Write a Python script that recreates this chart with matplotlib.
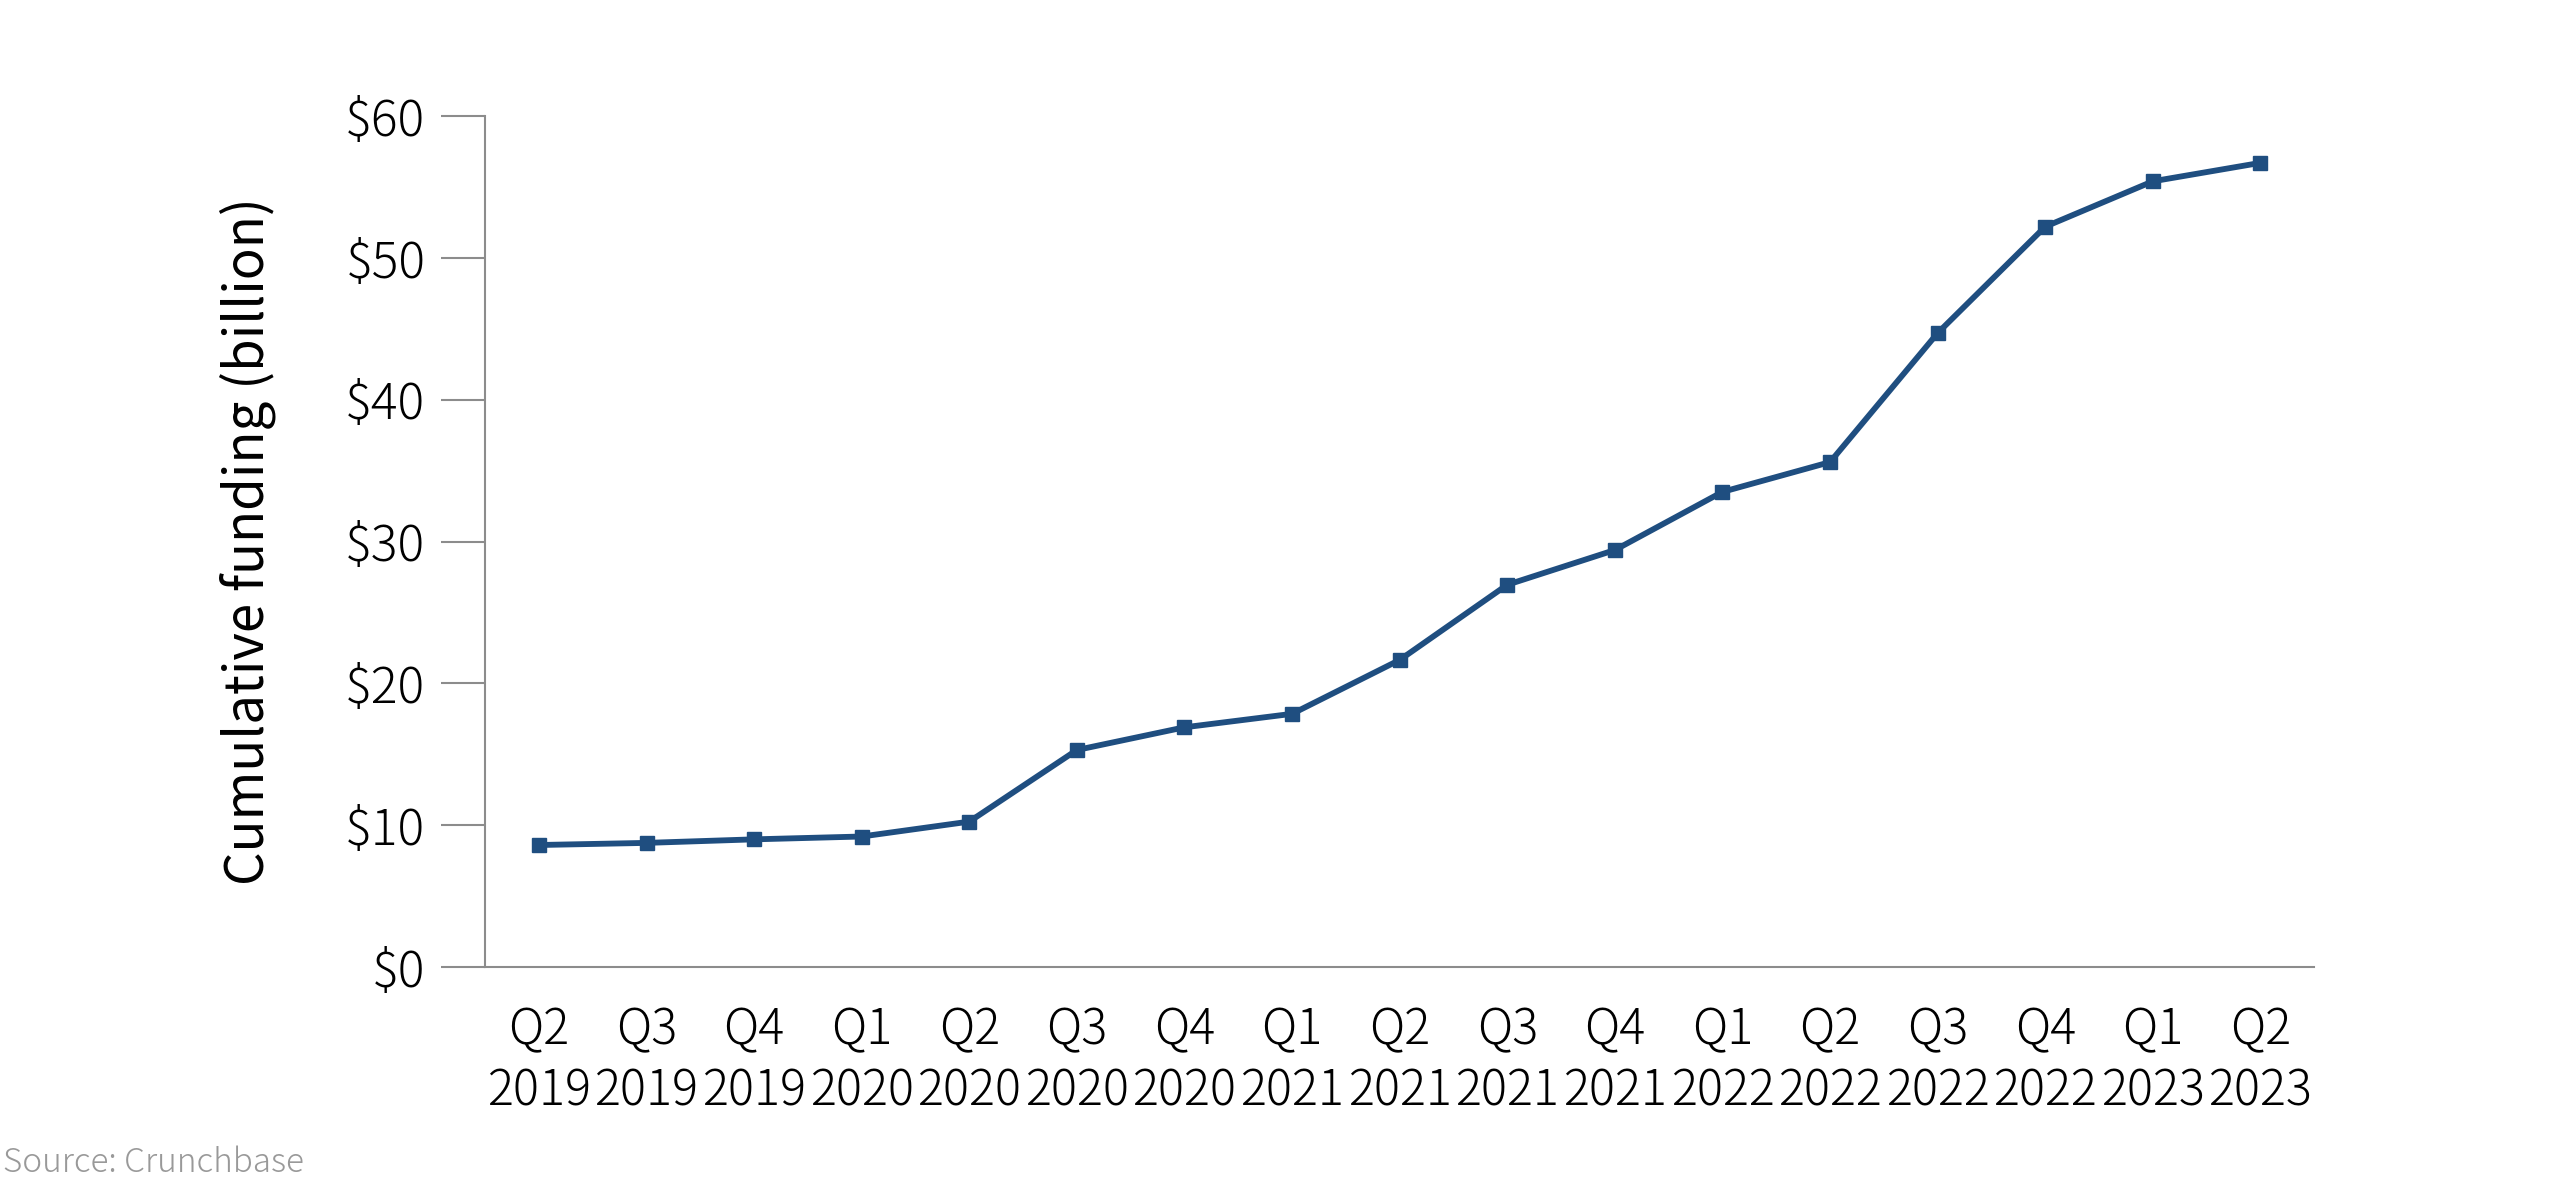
import matplotlib
matplotlib.use("Agg")
import matplotlib.pyplot as plt

quarters = ["Q2", "Q3", "Q4", "Q1", "Q2", "Q3", "Q4", "Q1", "Q2",
            "Q3", "Q4", "Q1", "Q2", "Q3", "Q4", "Q1", "Q2"]
years = ["2019", "2019", "2019", "2020", "2020", "2020", "2020", "2021", "2021",
         "2021", "2021", "2022", "2022", "2022", "2022", "2023", "2023"]
funding = [8.6, 8.75, 9.0, 9.2, 10.25, 15.3, 16.9, 17.85, 21.65,
           26.95, 29.4, 33.5, 35.6, 44.7, 52.2, 55.4, 56.7]
yticks = [0, 10, 20, 30, 40, 50, 60]

plt.rcParams['font.family'] = ['Noto Sans CJK JP', 'DejaVu Sans']
plt.rcParams['font.weight'] = 'light'

fig = plt.figure(figsize=(25.6, 11.83), dpi=100)
ax = fig.add_axes([0.1895, 0.1826, 0.7145, 0.7193])

x = list(range(len(funding)))
ax.plot(x, funding, color='#1f4e80', linewidth=4.2, marker='s', markersize=10)

ax.set_xlim(-0.5, len(funding) - 0.5)
ax.set_ylim(0, 60)
ax.set_yticks(yticks)
ax.set_yticklabels(["$" + str(v) for v in yticks])
ax.set_xticks(x)
ax.set_xticklabels([q + "\n" + y for q, y in zip(quarters, years)], linespacing=1.25)

for s in ["top", "right"]:
    ax.spines[s].set_visible(False)
for s in ["left", "bottom"]:
    ax.spines[s].set_color('#8c8c8c')
    ax.spines[s].set_linewidth(1.5)

ax.tick_params(axis='y', length=32, width=1.5, color='#8c8c8c', pad=11, labelsize=36)
ax.tick_params(axis='x', length=0, pad=27, labelsize=35)

ax.set_ylabel("Cumulative funding (billion)", fontsize=38, labelpad=50)

fig.text(0.001, 0.017, "Source: Crunchbase", fontsize=24, color='#999999', ha='left', va='center')

plt.savefig("out.png")
